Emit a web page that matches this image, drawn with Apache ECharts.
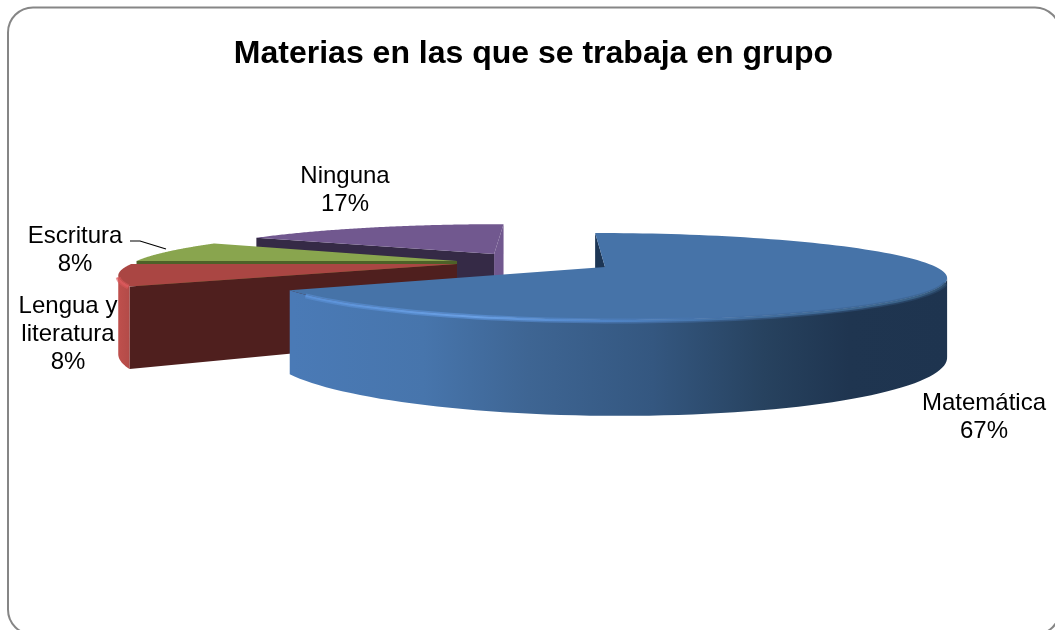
<!DOCTYPE html>
<html>
<head>
<meta charset="utf-8">
<style>html,body{margin:0;padding:0;background:#fff}#c{width:1055px;height:630px}</style>
<script src="https://cdn.jsdelivr.net/npm/echarts@6/dist/echarts.min.js"></script>
</head>
<body>
<div id="c"></div>
<script>
// ---- data ----
const chartTitle = 'Materias en las que se trabaja en grupo';
const categories = ['Matemática', 'Lengua y\nliteratura', 'Escritura', 'Ninguna'];
const percentages = [66.7, 8.3, 8.3, 16.7];

// ---- layout of the 3D projection ----
const view = { vx: 550, hy: 77, H: 190, p: 0.218, R: 331, wall: 75 };
const explodeX = [55, -94.5, -96, -60];
const explodeY = [0, 0.073, 0.15, 0.336];
const labelAt = [[984, 417], [68, 334.5], [75, 250.5], [345, 190]];

// ---- styles ----
const topColors = ['#4673a8', '#aa4643', '#89a54e', '#71588f'];
const startWall = ['#1d3655', '#4f1f1e', '#4e6128', '#352a46'];
const endWall = ['#1d3655', '#4f1f1e', '#4e6128', '#71588f'];
const F = 'Liberation Sans, Arial, sans-serif';
const LG = (x0, x1, stops) => new echarts.graphic.LinearGradient(x0, 0, x1, 0,
  stops.map(s => ({ offset: s[0], color: s[1] })), true);
const outerWall = [
  LG(293, 947, [[0, '#4a7ab6'], [0.2, '#4775ac'], [0.36, '#3e6593'], [0.55, '#345780'], [0.72, '#27425f'], [0.85, '#1f3550'], [1, '#1e344f']]),
  LG(117, 132, [[0, '#c0504d'], [1, '#b04a47']]),
  '#89a54e', '#71588f'
];
const rimGlow = [
  LG(293, 947, [[0, 'rgba(92,147,218,.5)'], [0.28, 'rgba(96,152,224,.6)'], [0.5, 'rgba(80,130,196,.5)'], [0.75, 'rgba(60,100,150,.45)'], [1, 'rgba(50,85,125,.4)']]),
  'rgba(216,86,88,.6)', null, null
];
const rimCore = [
  LG(293, 947, [[0, '#5a90d6'], [0.28, '#6aa0e4'], [0.45, '#5287cb'], [0.7, '#426e9f'], [0.95, '#3a6288'], [1, '#30506f']]),
  '#d9585a', null, null
];

// project a point of the ground plane; t is the clockwise angle from the back of the pie
function proj(i, t, r, z) {
  const d = 1 + view.p * (explodeY[i] + r * Math.cos(t));
  const X = explodeX[i] + view.R * r * Math.sin(t);
  return [view.vx + X / d, view.hy + (view.H + (z || 0) * view.wall) / d];
}
function area(pts) {
  let a = 0;
  pts.forEach((p, k) => { const q = pts[(k + 1) % pts.length]; a += p[0] * q[1] - q[0] * p[1]; });
  return a / 2;
}
const total = percentages.reduce((a, b) => a + b, 0);
const starts = percentages.map((_, i) => percentages.slice(0, i).reduce((a, b) => a + b, 0) / total * 2 * Math.PI);

function cutWall(i, t) {
  return [proj(i, 0, 0, 0), proj(i, t, 1, 0), proj(i, t, 1, 1), proj(i, 0, 0, 1)];
}

function renderItem(i, api) {
  const a0 = starts[i], a1 = a0 + api.value(0) / total * 2 * Math.PI;
  const kids = [];
  const N = 120;
  const ts = [];
  for (let k = 0; k <= N; k++) ts.push(a0 + (a1 - a0) * k / N);

  // straight cut faces, only those that look at the viewer
  const wa = cutWall(i, a0), wb = cutWall(i, a1);
  if (area(wb) > 0) kids.push({ type: 'polygon', shape: { points: wb }, style: { fill: endWall[i] } });
  if (area(wa) < 0) kids.push({ type: 'polygon', shape: { points: wa }, style: { fill: startWall[i] } });

  // curved outer face: only the part running right to left on screen
  const vis = [];
  for (let k = 0; k < N; k++) {
    if (proj(i, ts[k + 1], 1, 0)[0] < proj(i, ts[k], 1, 0)[0]) vis.push(ts[k], ts[k + 1]);
  }
  if (vis.length > 1) {
    const up = vis.map(t => proj(i, t, 1, 0));
    const down = vis.map(t => proj(i, t, 1, 1)).reverse();
    kids.push({ type: 'polygon', shape: { points: up.concat(down) }, style: { fill: outerWall[i] } });
  }

  // top face
  const top = [proj(i, 0, 0, 0)].concat(ts.map(t => proj(i, t, 1, 0)));
  kids.push({ type: 'polygon', shape: { points: top }, style: { fill: topColors[i] } });

  // soft bevel along the front rim, kept clear of the silhouette ends
  if (rimCore[i] && vis.length > 1) {
    const trim = Math.ceil(vis.length * 0.04);
    const rim = vis.slice(trim, vis.length - trim).map(t => proj(i, t, 1, 0)).map(p => [p[0], p[1] + 1]);
    kids.push({ type: 'polyline', shape: { points: rim }, style: { fill: null, stroke: rimGlow[i], lineWidth: 5 } });
    kids.push({ type: 'polyline', shape: { points: rim }, style: { fill: null, stroke: rimCore[i], lineWidth: 2 } });
  }
  return { type: 'group', children: kids };
}

const chart = echarts.init(document.getElementById('c'), null, { renderer: 'canvas' });
// painter's order: back slices first
const order = [3, 2, 1, 0];
chart.setOption({
  animation: false,
  backgroundColor: '#ffffff',
  title: {
    text: chartTitle, left: 528.5, top: 33, textAlign: 'center',
    textStyle: { fontFamily: F, fontSize: 32, fontWeight: 'bold', color: '#000' }
  },
  graphic: [
    { type: 'rect', z: 0, shape: { x: 8, y: 7.5, width: 1052, height: 627, r: 25 },
      style: { fill: '#fff', stroke: '#868686', lineWidth: 2 } },
    { type: 'polyline', z: 5, shape: { points: [[130, 241], [140, 241], [166, 249]] },
      style: { fill: null, stroke: '#000', lineWidth: 1.2 } }
  ].concat(categories.map((c, i) => ({
    type: 'text', z: 6, x: labelAt[i][0], y: labelAt[i][1],
    style: { text: c + '\n' + Math.round(percentages[i]) + '%', align: 'center', verticalAlign: 'middle',
      fontFamily: F, fontSize: 24, lineHeight: 28, fill: '#000' }
  }))),
  series: order.map(i => ({
    type: 'custom', coordinateSystem: 'none', name: categories[i], z: 2,
    renderItem: (params, api) => renderItem(i, api),
    data: [[percentages[i]]], silent: true
  }))
});
</script>
</body>
</html>
